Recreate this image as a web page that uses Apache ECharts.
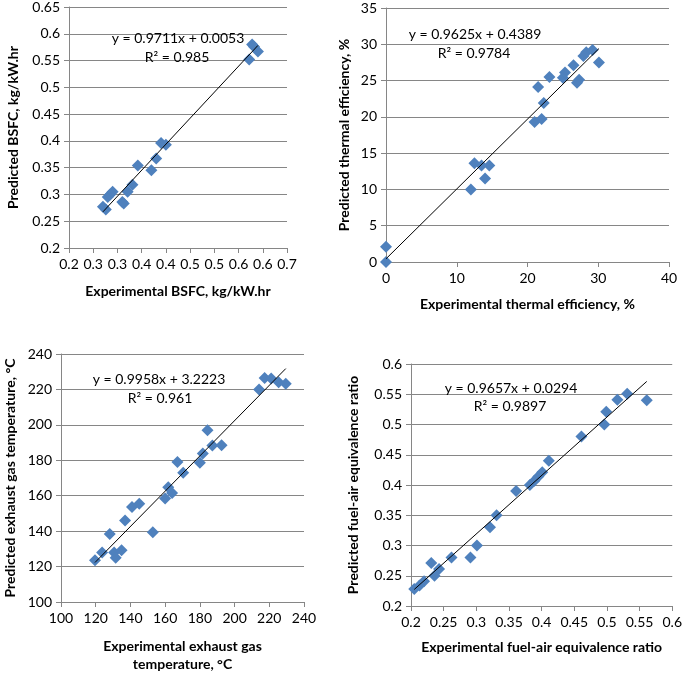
<!DOCTYPE html>
<html>
<head>
<meta charset="utf-8">
<script src="https://cdn.jsdelivr.net/npm/echarts@6/dist/echarts.min.js"></script>
<style>
html,body{margin:0;padding:0;background:#fff;}
#chart{width:685px;height:674px;}
</style>
</head>
<body>
<div id="chart"></div>
<script>
// ---- Panel 1: BSFC (experimental, predicted) ----
const bsfcExp  = [0.270,0.276,0.280,0.285,0.290,0.310,0.313,0.321,0.331,0.342,0.370,0.380,0.390,0.400,0.572,0.578,0.582,0.590];
const bsfcPred = [0.277,0.272,0.295,0.300,0.305,0.286,0.283,0.305,0.318,0.354,0.345,0.367,0.396,0.393,0.552,0.580,0.576,0.567];
const bsfcFit  = {slope:0.9711, intercept:0.0053};
const bsfcEq   = ["y = 0.9711x + 0.0053", "R² = 0.985"];

// ---- Panel 2: thermal efficiency ----
const effExp  = [0,0,12.0,12.5,13.5,14.0,14.6,21.0,21.5,22.0,22.3,23.1,25.0,25.3,26.5,27.0,27.3,27.9,28.3,29.2,30.1];
const effPred = [0,2.1,10.0,13.6,13.3,11.5,13.3,19.3,24.1,19.7,21.9,25.5,25.4,26.1,27.1,24.7,25.1,28.4,28.9,29.2,27.5];
const effFit  = {slope:0.9625, intercept:0.4389};
const effEq   = ["y = 0.9625x + 0.4389", "R² = 0.9784"];

// ---- Panel 3: exhaust gas temperature ----
const egtExp  = [119.6,123.7,128.1,130.6,131.5,134.9,136.9,140.9,145.1,152.9,160.0,161.8,164.0,167.1,170.4,180.0,181.7,184.4,187.2,192.5,214.1,217.3,221.1,225.4,229.5];
const egtPred = [123.5,128.0,138.4,128.0,125.0,129.2,146.0,153.6,155.4,139.4,158.4,164.8,161.5,179.1,173.0,178.6,183.8,196.9,188.3,188.5,220.0,226.4,226.2,224.0,223.2];
const egtFit  = {slope:0.9958, intercept:3.2223};
const egtEq   = ["y = 0.9958x + 3.2223", "R² = 0.961"];

// ---- Panel 4: fuel-air equivalence ratio ----
const phiExp  = [0.205,0.213,0.220,0.231,0.236,0.243,0.262,0.291,0.301,0.321,0.331,0.361,0.382,0.389,0.395,0.401,0.411,0.461,0.496,0.499,0.516,0.531,0.561];
const phiPred = [0.228,0.234,0.241,0.271,0.250,0.261,0.280,0.280,0.300,0.330,0.350,0.390,0.400,0.407,0.414,0.421,0.440,0.480,0.500,0.521,0.541,0.551,0.540];
const phiFit  = {slope:0.9657, intercept:0.0294};
const phiEq   = ["y = 0.9657x + 0.0294", "R² = 0.9897"];

// ---- axis titles ----
const titles = [
  ["Experimental BSFC, kg/kW.hr", "Predicted BSFC, kg/kW.hr"],
  ["Experimental thermal efficiency, %", "Predicted thermal efficiency, %"],
  ["Experimental exhaust gas\ntemperature, °C", "Predicted exhaust gas temperature, °C"],
  ["Experimental fuel-air equivalence ratio", "Predicted fuel-air equivalence ratio"]
];

const FONT = "Lato";
const BLUE = "#4F81BD";

function pairs(xs, ys){ return xs.map((x,i)=>[x, ys[i]]); }
function trend(xs, fit){
  const lo = Math.min(...xs), hi = Math.max(...xs);
  return [[lo, fit.slope*lo+fit.intercept],[hi, fit.slope*hi+fit.intercept]];
}

const grids = [
  {left:69, top:7, width:218, height:241},
  {left:386, top:8, width:283, height:254},
  {left:56, top:354, width:248, height:256},
  {left:411, top:364, width:262, height:242}
];

function axisCommon(){
  return {
    type:'value',
    axisLine:{show:true, lineStyle:{color:'#868686', width:1}},
    axisTick:{show:true, inside:false, length:5, lineStyle:{color:'#868686'}},
    splitLine:{show:false},
    axisLabel:{color:'#000', fontFamily:FONT, fontSize:14},
    nameLocation:'middle',
    nameTextStyle:{color:'#000', fontFamily:FONT, fontSize:14, fontWeight:'bold', lineHeight:18},
  };
}

const xRanges = [
  {min:0.2, max:0.65, interval:0.05, gap:34, fmt:v=>{const r=Math.round(v*20)/20; return (Math.round(r*10+1e-6)/10).toFixed(1);}},
  {min:0, max:40, interval:10, gap:33},
  {min:100, max:240, interval:20, gap:35},
  {min:0.2, max:0.6, interval:0.05, gap:32, fmt:v=>String(Math.round(v*100)/100)}
];
const yRanges = [
  {min:0.2, max:0.65, interval:0.05, gap:47, fmt:v=>String(Math.round(v*100)/100)},
  {min:0, max:35, interval:5, gap:33},
  {min:100, max:240, interval:20, gap:42},
  {min:0.2, max:0.6, interval:0.05, gap:49, fmt:v=>String(Math.round(v*100)/100)}
];

const xAxis = xRanges.map((r,i)=>{
  const a = axisCommon();
  Object.assign(a, {gridIndex:i, min:r.min, max:r.max, interval:r.interval, name:titles[i][0], nameGap:r.gap});
  a.axisLabel = Object.assign({}, a.axisLabel, {margin:9});
  if (r.fmt) a.axisLabel.formatter = r.fmt;
  return a;
});
const yAxis = yRanges.map((r,i)=>{
  const a = axisCommon();
  Object.assign(a, {gridIndex:i, min:r.min, max:r.max, interval:r.interval, name:titles[i][1], nameGap:r.gap});
  a.splitLine = {show:true, lineStyle:{color:'#868686', width:1}};
  a.axisLabel = Object.assign({}, a.axisLabel, {margin:9});
  if (r.fmt) a.axisLabel.formatter = r.fmt;
  return a;
});

const sets = [
  [bsfcExp, bsfcPred, bsfcFit],
  [effExp, effPred, effFit],
  [egtExp, egtPred, egtFit],
  [phiExp, phiPred, phiFit]
];
const series = [];
sets.forEach((s,i)=>{
  series.push({
    type:'scatter', xAxisIndex:i, yAxisIndex:i, data:pairs(s[0], s[1]),
    symbol:'diamond', symbolSize:12, itemStyle:{color:BLUE, opacity:1}, silent:true, z:2
  });
  series.push({
    type:'line', xAxisIndex:i, yAxisIndex:i, data:trend(s[0], s[2]),
    symbol:'none', lineStyle:{color:'#000', width:1}, silent:true, z:3
  });
});

const eqs = [bsfcEq, effEq, egtEq, phiEq];
const eqPos = [
  [[178,38],[177,57]],
  [[475,34],[474,53]],
  [[159,379],[160,398]],
  [[511,388],[510,406]]
];
const graphic = [];
eqs.forEach((e,i)=>{
  e.forEach((t,j)=>{
    graphic.push({
      type:'text', x:eqPos[i][j][0], y:eqPos[i][j][1], z:10,
      style:{text:t, fill:'#000', font:'14px '+FONT, textAlign:'center', textVerticalAlign:'middle'}
    });
  });
});

const chart = echarts.init(document.getElementById('chart'), null, {renderer:'canvas'});
chart.setOption({
  backgroundColor:'#fff',
  animation:false,
  grid:grids,
  xAxis:xAxis,
  yAxis:yAxis,
  series:series,
  graphic:graphic
});
</script>
</body>
</html>
